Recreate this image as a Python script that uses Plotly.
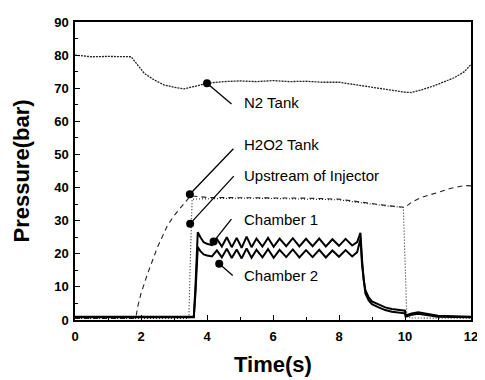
import plotly.graph_objects as go

# ---------------- data ----------------
t_n2 = [0, 0.5, 1.0, 1.5, 1.7, 1.9, 2.1, 2.4, 2.7, 3.0, 3.3, 3.6, 4.0, 4.5, 5.0, 5.5, 6.0,
        6.5, 7.0, 7.5, 8.0, 8.4, 8.8, 9.2, 9.6, 10.0, 10.2, 10.5, 10.9, 11.2, 11.5, 11.8, 12.0]
p_n2 = [80.0, 79.5, 79.6, 79.6, 79.5, 77.0, 74.5, 72.5, 71.0, 70.3, 69.8, 70.5, 71.5, 72.0, 72.2,
        72.0, 72.3, 72.0, 72.1, 71.8, 71.8, 71.2, 70.6, 70.0, 69.3, 68.8, 68.7, 69.5, 70.8, 72.0,
        73.2, 75.0, 77.2]

t_h2o2 = [0, 1.8, 1.85, 1.9, 2.0, 2.2, 2.5, 2.8, 3.0, 3.3, 3.5, 4.0, 5.0, 6.0, 7.0, 8.0, 8.5,
          9.0, 9.5, 10.0, 10.2, 10.5, 11.0, 11.4, 11.8, 12.0]
p_h2o2 = [0.5, 0.5, 1.0, 4.0, 8.0, 14.0, 22.0, 28.5, 31.5, 35.0, 37.5, 37.0, 37.0, 37.0, 36.8,
          36.5, 35.8, 35.0, 34.5, 34.0, 35.6, 37.0, 38.5, 39.8, 40.6, 40.5]

t_upstream = [0, 3.45, 3.5, 3.55, 4.0, 5.0, 6.0, 7.0, 8.0, 8.5, 9.0, 9.5, 9.95, 10.0, 10.05,
              10.15, 12.0]
p_upstream = [0.5, 0.5, 20.0, 36.5, 36.6, 36.8, 36.7, 36.6, 36.3, 35.6, 34.9, 34.4, 34.0, 18.0,
              2.5, 0.6, 0.5]

t_ch = [0, 3.6, 3.65, 3.72, 3.8, 3.9, 4.0, 4.15, 4.3, 4.45, 4.6, 4.75, 4.9, 5.05, 5.2, 5.35,
        5.5, 5.68, 5.85, 6.02, 6.2, 6.4, 6.6, 6.8, 7.0, 7.2, 7.4, 7.6, 7.8, 8.0, 8.2, 8.4, 8.55,
        8.65, 8.7, 8.75, 8.8, 8.9, 9.0, 9.2, 9.4, 9.6, 9.8, 10.0, 10.02, 10.2, 10.4, 10.6, 10.8,
        11.0, 11.5, 12.0]
p_chamber1 = [1.0, 1.0, 10.0, 26.5, 25.0, 23.5, 23.0, 22.6, 24.5, 22.2, 25.0, 22.0, 24.8, 21.8,
              25.2, 22.0, 24.6, 22.2, 24.8, 22.1, 24.6, 22.3, 24.7, 22.2, 24.5, 22.3, 24.6, 22.2,
              24.4, 22.4, 24.5, 22.5, 23.5, 26.3, 18.0, 12.0, 9.0, 6.8, 5.6, 4.6, 3.8, 3.3, 3.0,
              2.8, 1.4, 2.0, 2.3, 2.0, 1.6, 1.3, 1.1, 1.0]
p_chamber2 = [0.8, 0.8, 8.0, 22.0, 20.8, 19.8, 19.5, 19.2, 21.0, 18.9, 21.5, 18.7, 21.3, 18.6,
              21.6, 18.8, 21.2, 18.9, 21.4, 18.8, 21.2, 19.0, 21.3, 18.9, 21.1, 19.0, 21.2, 18.9,
              21.0, 19.1, 21.1, 19.2, 20.5, 24.5, 16.5, 11.0, 8.0, 5.9, 4.8, 3.8, 3.0, 2.5, 2.2,
              2.0, 1.0, 1.6, 1.9, 1.7, 1.3, 1.0, 0.9, 0.8]

label_names = ["N2 Tank", "H2O2 Tank", "Upstream of Injector", "Chamber 1", "Chamber 2"]
label_t = [4.0, 3.48, 3.49, 4.2, 4.37]
label_p = [71.5, 38.0, 29.1, 23.7, 17.0]

x_ticks = [0, 2, 4, 6, 8, 10, 12]
x_tick_labels = ["0", "2", "4", "6", "8", "10", "12"]
y_ticks = [0, 10, 20, 30, 40, 50, 60, 70, 80, 90]
y_tick_labels = ["0", "10", "20", "30", "40", "50", "60", "70", "80", "90"]

# ---------------- figure ----------------
FONT = "Liberation Sans, Arial, sans-serif"
fig = go.Figure()

fig.add_trace(go.Scatter(x=t_n2, y=p_n2, mode="lines",
                         line=dict(color="#222222", width=1.3, dash="2px,1px")))
fig.add_trace(go.Scatter(x=t_h2o2, y=p_h2o2, mode="lines",
                         line=dict(color="#222222", width=1.1, dash="5px,4px")))
fig.add_trace(go.Scatter(x=t_upstream, y=p_upstream, mode="lines",
                         line=dict(color="#222222", width=1.1, dash="1px,2px")))
fig.add_trace(go.Scatter(x=t_ch, y=p_chamber1, mode="lines",
                         line=dict(color="black", width=2)))
fig.add_trace(go.Scatter(x=t_ch, y=p_chamber2, mode="lines",
                         line=dict(color="black", width=2)))
fig.add_trace(go.Scatter(x=label_t, y=label_p, mode="markers",
                         marker=dict(color="black", size=8)))

# leader lines (pixel offsets from markers) and labels
leader_ax = [26, 45, 45, 19, 15]
leader_ay = [22, -47, -49, -24, 13]
label_text_y = [65.6, 53.1, 43.6, 30.3, 13.4]
for name, tx, py, ax, ay, ty in zip(label_names, label_t, label_p, leader_ax, leader_ay, label_text_y):
    fig.add_annotation(x=tx, y=py, ax=ax, ay=ay, text="", showarrow=True,
                       arrowhead=0, arrowwidth=1.3, arrowcolor="black", standoff=0,
                       startstandoff=0)
    fig.add_annotation(x=5.06, y=ty, text=name, showarrow=False, xanchor="left",
                       yanchor="middle", font=dict(family=FONT, size=15, color="black"))

axis_common = dict(showline=True, linecolor="black", linewidth=1.5, mirror=True,
                   ticks="inside", ticklen=5, tickwidth=1.2, tickcolor="black",
                   showgrid=False, zeroline=False, ticklabeloverflow="allow",
                   tickfont=dict(family=FONT, size=13, color="black", weight=700))

fig.update_xaxes(range=[0, 12], tickvals=x_ticks, ticktext=x_tick_labels,
                 ticklabelstandoff=4,
                 minor=dict(dtick=1, ticks="inside", ticklen=3, tickcolor="black"),
                 title=dict(text="<b>Time(s)</b>", standoff=13,
                            font=dict(family=FONT, size=22, color="black")),
                 **axis_common)
fig.update_yaxes(range=[0, 90], tickvals=y_ticks, ticktext=y_tick_labels,
                 ticklabelstandoff=2,
                 minor=dict(dtick=5, ticks="inside", ticklen=3, tickcolor="black"),
                 title=dict(text="<b>Pressure(bar)</b>", standoff=18,
                            font=dict(family=FONT, size=22, color="black")),
                 **axis_common)

# the page body adds an 8 px margin, so the figure is sized to sit inside the window
fig.update_layout(width=477, height=372, showlegend=False,
                  margin=dict(l=67, r=7, t=11, b=58),
                  paper_bgcolor="white", plot_bgcolor="white")

fig.write_html("out.html")
